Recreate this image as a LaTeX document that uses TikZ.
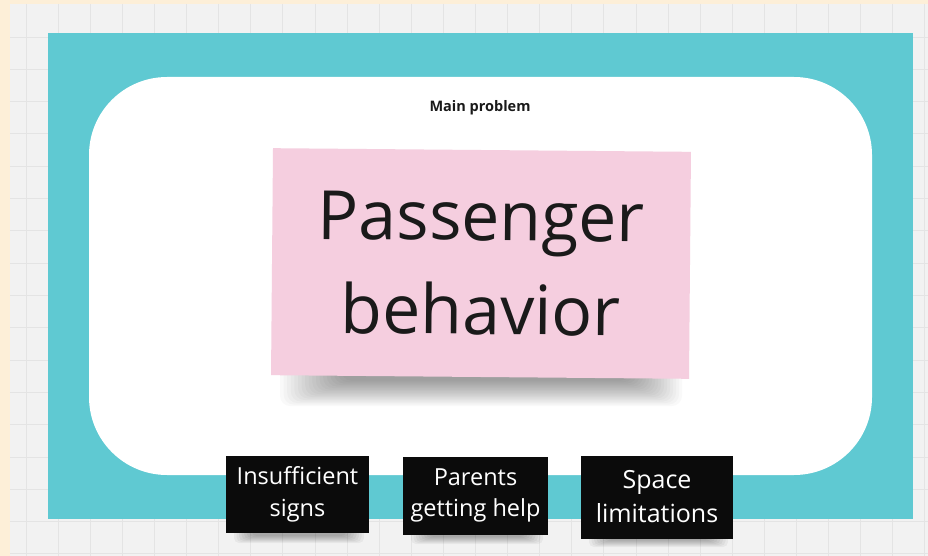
\documentclass[tikz,border=0pt]{standalone}
\usepackage{fontspec}
\setmainfont{Open Sans}
\definecolor{peach}{HTML}{FDEFD8}
\definecolor{bggray}{HTML}{F2F2F2}
\definecolor{gridc}{HTML}{E4E4E4}
\definecolor{tealbg}{HTML}{5FC9D2}
\definecolor{pinknote}{HTML}{F5CEDF}
\definecolor{darktext}{HTML}{1A1A1A}
\definecolor{blacknote}{HTML}{0B0B0B}
\tikzset{
  pinkstyle/.style={fill=pinknote, minimum width=418pt, minimum height=227pt, inner sep=0pt,
    align=center, text=darktext, font=\fontsize{68}{94}\selectfont},
  blackstyle/.style={fill=blacknote, inner sep=0pt, align=center, text=white,
    font=\fontsize{23.5}{31.5}\selectfont},
  titlestyle/.style={font=\bfseries\fontsize{14.5}{16}\selectfont, text=darktext},
  shadowlayer/.style={fill=black, rounded corners=10pt}
}
\begin{document}
\begin{tikzpicture}[x=1pt,y=-1pt]
\useasboundingbox (0,0) rectangle (928,556);
\fill[peach] (0,0) rectangle (928,556);
\fill[bggray] (10,4) rectangle (928,556);
\foreach \i in {0,...,28} \draw[gridc, line width=0.8pt] ({26+32.1*\i},4) -- ({26+32.1*\i},556);
\foreach \j in {0,...,16} \draw[gridc, line width=0.8pt] (10,{37+32.3*\j}) -- (928,{37+32.3*\j});
\fill[tealbg] (48,33) rectangle (913,519);
\fill[white, rounded corners=78pt] (89,77) rectangle (872,475);
\node[titlestyle] (title) at (480,108) {Main problem};
% shadow of main note
\foreach \k in {0,...,17}
  \fill[shadowlayer, opacity=0.022] ({280+\k*3.6},360) rectangle ({682-\k*3},{406-\k*1.5});
\node[pinkstyle, rotate=-0.5] (main) at (481,263.5) {Passenger\\behavior};
% shadows of black notes
\foreach \k in {0,...,7} {
  \fill[shadowlayer, opacity=0.045, rounded corners=5pt] ({234+\k*2.5},515) rectangle ({364-\k*2.5},{543-\k*1});
  \fill[shadowlayer, opacity=0.045, rounded corners=5pt] ({411+\k*2.5},515) rectangle ({543-\k*2.5},{544-\k*1});
  \fill[shadowlayer, opacity=0.045, rounded corners=5pt] ({589+\k*2.5},520) rectangle ({728-\k*2.5},{547-\k*1});
}
\node[blackstyle, minimum width=143pt, minimum height=77pt] (n1) at (297.5,494.5) {Insufficient\\signs};
\node[blackstyle, minimum width=145pt, minimum height=78pt] (n2) at (475.5,495.5) {Parents\\getting help};
\node[blackstyle, minimum width=152pt, minimum height=83pt, font=\fontsize{25}{34}\selectfont] (n3) at (657,497) {Space\\limitations};
\end{tikzpicture}
\end{document}
